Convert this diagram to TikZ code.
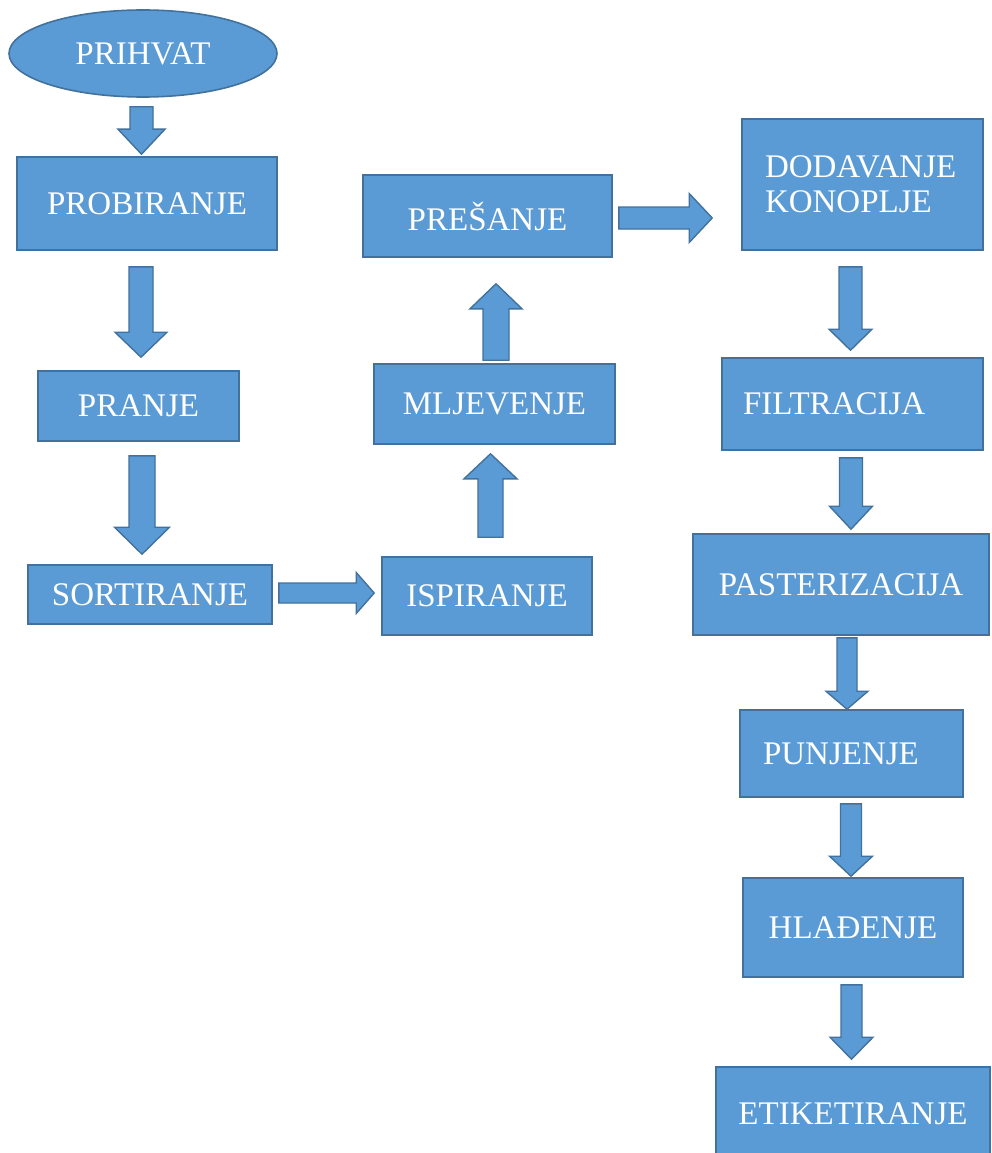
\documentclass[tikz,border=0pt]{standalone}
\usepackage{fontspec}
\setmainfont{Liberation Serif}
\usetikzlibrary{calc,shapes.geometric}
\definecolor{boxfill}{HTML}{5B9BD5}
\definecolor{bordercol}{HTML}{41719C}
\tikzset{
  bshaft/.store in=\bshaft, bhead/.store in=\bhead, blen/.store in=\blen,
  bshaft=11pt, bhead=23pt, blen=24pt,
  stepbox/.style={draw=bordercol, fill=boxfill, line width=1.6pt, text=white,
    font=\fontsize{33}{35}\selectfont, inner sep=0pt},
  leftbox/.style={stepbox, align=left},
  barrow/.style={draw=bordercol, fill=boxfill, line width=1.4pt, line join=miter,
    to path={let \p1=($(\tikztotarget)!\blen!(\tikztostart)$) in
      ($(\tikztostart)!\bshaft!90:(\tikztotarget)$)
      -- ($(\p1)!\bshaft!90:(\tikztotarget)$)
      -- ($(\p1)!\bhead!90:(\tikztotarget)$)
      -- (\tikztotarget)
      -- ($(\p1)!\bhead!-90:(\tikztotarget)$)
      -- ($(\p1)!\bshaft!-90:(\tikztotarget)$)
      -- ($(\tikztostart)!\bshaft!-90:(\tikztotarget)$) -- cycle}}
}
\begin{document}
\begin{tikzpicture}[x=1pt,y=-1pt]
\path[use as bounding box] (0,0) rectangle (991,1153);
\clip (0,0) rectangle (991,1153);
\fill[white] (0,0) rectangle (991,1153);

% nodes
\node[stepbox, ellipse, minimum width=268pt, minimum height=87pt] (prihvat) at (143,53.5) {PRIHVAT};
\node[stepbox, minimum width=260pt, minimum height=93pt] (probiranje) at (147,203.5) {PROBIRANJE};
\node[stepbox, minimum width=201pt, minimum height=70pt] (pranje) at (138.5,406) {PRANJE};
\node[stepbox, minimum width=244pt, minimum height=59pt] (sortiranje) at (150,594.5) {SORTIRANJE};
\node[stepbox, minimum width=210pt, minimum height=78pt] (ispiranje) at (487,596) {ISPIRANJE};
\node[stepbox, minimum width=241pt, minimum height=80pt] (mljevenje) at (494.5,404) {MLJEVENJE};
\node[stepbox, minimum width=249pt, minimum height=82pt] (presanje) at (487.5,216) {PREŠANJE};
\node[leftbox, inner xsep=23pt, text width=195pt, minimum height=131pt] (dodavanje) at (862.5,184.5) {DODAVANJE\\KONOPLJE};
\node[leftbox, inner xsep=21pt, text width=219pt, minimum height=92pt] (filtracija) at (852.5,404) {FILTRACIJA};
\node[stepbox, minimum width=296pt, minimum height=101pt] (pasterizacija) at (841,584.5) {PASTERIZACIJA};
\node[leftbox, inner xsep=23pt, text width=177pt, minimum height=87pt] (punjenje) at (851.5,753.5) {PUNJENJE};
\node[stepbox, minimum width=220pt, minimum height=99pt] (hladenje) at (853,927.5) {HLAĐENJE};
\node[stepbox, minimum width=274pt, minimum height=93pt] (etiketiranje) at (853,1113.5) {ETIKETIRANJE};

% arrow ends
\coordinate (a1s) at ($(prihvat.south)+(-1.5,9)$);
\coordinate (a1e) at ($(a1s |- probiranje.north)+(0,-2)$);
\coordinate (a2s) at ($(probiranje.south)+(-6,16)$);
\coordinate (a2e) at ($(a2s |- pranje.north)+(0,-13)$);
\coordinate (a3s) at ($(pranje.south)+(3.5,14)$);
\coordinate (a3e) at ($(a3s |- sortiranje.north)+(0,-10)$);
\coordinate (a4s) at ($(sortiranje.east)+(6,-1.5)$);
\coordinate (a4e) at ($(a4s -| ispiranje.west)+(-7,0)$);
\coordinate (a5s) at ($(ispiranje.north)+(3.5,-19)$);
\coordinate (a5e) at ($(a5s |- mljevenje.south)+(0,9)$);
\coordinate (a6s) at ($(mljevenje.north)+(1.5,-3)$);
\coordinate (a6e) at ($(a6s |- presanje.south)+(0,26)$);
\coordinate (a7s) at ($(presanje.east)+(6,2)$);
\coordinate (a7e) at ($(a7s -| dodavanje.west)+(-29,0)$);
\coordinate (a8s) at ($(dodavanje.south)+(-12,16)$);
\coordinate (a8e) at ($(a8s |- filtracija.north)+(0,-7)$);
\coordinate (a9s) at ($(filtracija.south)+(-1.5,7)$);
\coordinate (a9e) at ($(a9s |- pasterizacija.north)+(0,-4)$);
\coordinate (a10s) at ($(pasterizacija.south)+(6,2)$);
\coordinate (a10e) at ($(a10s |- punjenje.north)$);
\coordinate (a11s) at ($(punjenje.south)+(-0.5,6)$);
\coordinate (a11e) at ($(a11s |- hladenje.north)+(0,-1)$);
\coordinate (a12s) at ($(hladenje.south)+(-1.5,7)$);
\coordinate (a12e) at ($(a12s |- etiketiranje.north)+(0,-7)$);

% block arrows
\draw[barrow, bshaft=11.5pt, bhead=23.5pt, blen=25pt] (a1s) to (a1e);
\draw[barrow, bshaft=12pt, bhead=26pt, blen=25pt] (a2s) to (a2e);
\draw[barrow, bshaft=13pt, bhead=27.5pt, blen=27pt] (a3s) to (a3e);
\draw[barrow, bshaft=10pt, bhead=20.5pt, blen=18pt] (a4s) to (a4e);
\draw[barrow, bshaft=12.5pt, bhead=26.5pt, blen=25pt] (a5s) to (a5e);
\draw[barrow, bshaft=13pt, bhead=26pt, blen=25pt] (a6s) to (a6e);
\draw[barrow, bshaft=11pt, bhead=24.5pt, blen=23pt] (a7s) to (a7e);
\draw[barrow, bshaft=11.5pt, bhead=21.5pt, blen=21pt] (a8s) to (a8e);
\draw[barrow, bshaft=11.5pt, bhead=21.5pt, blen=23pt] (a9s) to (a9e);
\draw[barrow, bshaft=10pt, bhead=21pt, blen=18pt] (a10s) to (a10e);
\draw[barrow, bshaft=10.5pt, bhead=21.5pt, blen=20pt] (a11s) to (a11e);
\draw[barrow, bshaft=10.5pt, bhead=21.5pt, blen=22pt] (a12s) to (a12e);
\end{tikzpicture}
\end{document}
